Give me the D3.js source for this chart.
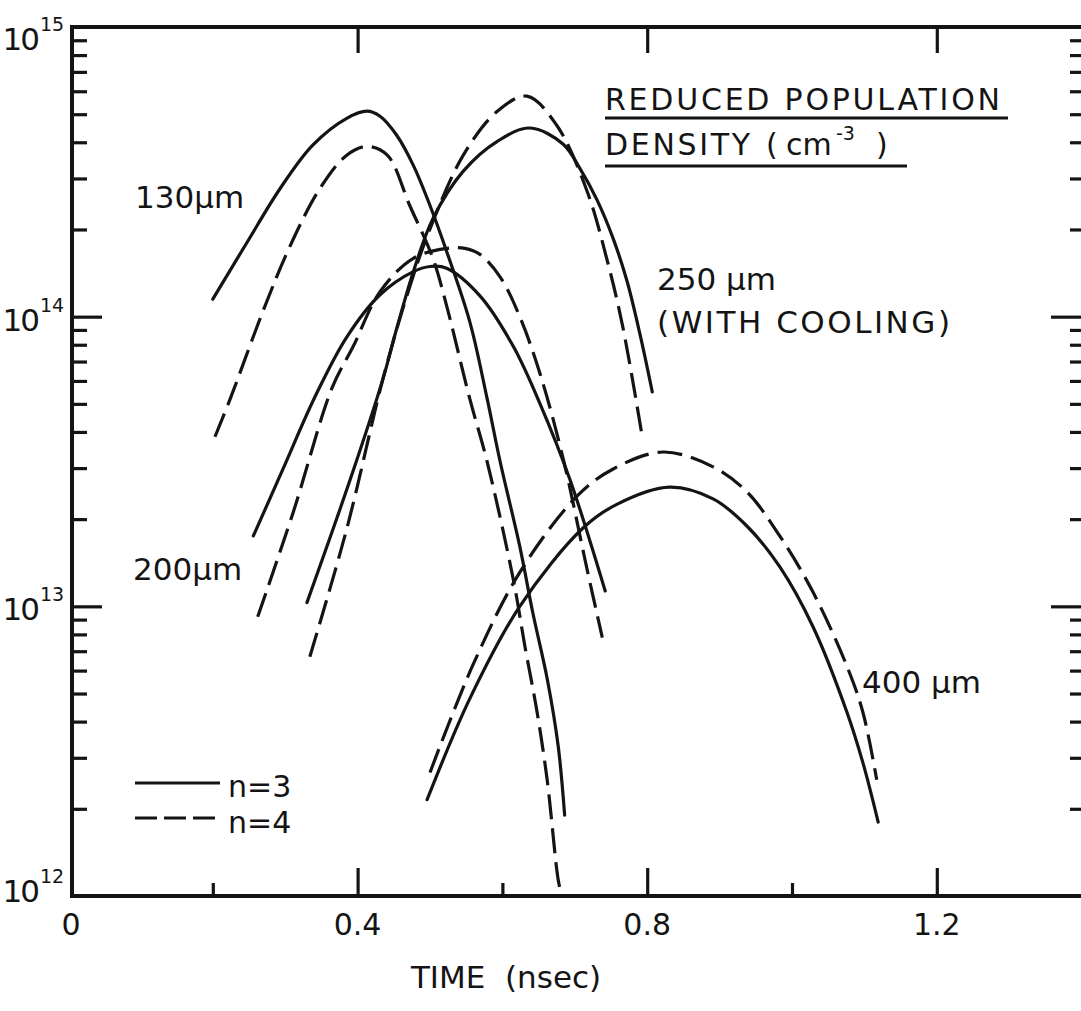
<!DOCTYPE html>
<html><head><meta charset="utf-8">
<script src="https://cdn.jsdelivr.net/npm/d3@7"></script>
<style>
body{margin:0;background:#fff}
svg{display:block}
text{font-family:'DejaVu Sans',sans-serif;fill:#141414}
</style>
</head><body><svg id="c" width="1081" height="1011"></svg>
<script>
// ---------- data ----------
const xMajorTicks = [0.4, 0.8, 1.2];
const xMinorTicks = [0.2, 0.6, 1.0];
const xTickLabels = [[0, "0"], [0.4, "0.4"], [0.8, "0.8"], [1.2, "1.2"]];
const yDecades = [1e12, 1e13, 1e14, 1e15];
const yDecadeExponents = ["12", "13", "14", "15"];
const xTitle = "TIME  (nsec)";

// [time (nsec), reduced population density (cm^-3)]
const s130n3 = [[0.200,1.15e14],[0.247,1.80e14],[0.293,2.77e14],[0.338,3.91e14],[0.385,4.84e14],[0.413,5.12e14],[0.431,4.92e14],[0.454,4.23e14],[0.477,3.33e14],[0.500,2.42e14],[0.523,1.68e14],[0.555,9.6e13],[0.579,5.2e13],[0.597,3.15e13],[0.624,1.61e13],[0.642,9.5e12],[0.662,5.6e12],[0.677,3.3e12],[0.686,1.9e12]];
const s130n4 = [[0.203,3.85e13],[0.224,5.2e13],[0.269,1.04e14],[0.307,1.76e14],[0.348,2.77e14],[0.385,3.61e14],[0.413,3.87e14],[0.441,3.61e14],[0.472,2.42e14],[0.504,1.59e14],[0.523,1.09e14],[0.555,5.2e13],[0.579,3.15e13],[0.615,1.24e13],[0.631,7.3e12],[0.648,4.3e12],[0.662,2.5e12],[0.677,1.14e12],[0.682,1.0e12]];
const s200n3 = [[0.256,1.75e13],[0.297,2.98e13],[0.341,5.28e13],[0.385,8.5e13],[0.431,1.19e14],[0.477,1.43e14],[0.500,1.49e14],[0.523,1.47e14],[0.569,1.18e14],[0.615,7.9e13],[0.652,5.0e13],[0.693,2.75e13],[0.742,1.13e13]];
const s200n4 = [[0.262,9.2e12],[0.311,2.11e13],[0.365,5.7e13],[0.394,7.9e13],[0.431,1.22e14],[0.477,1.59e14],[0.523,1.72e14],[0.548,1.72e14],[0.569,1.64e14],[0.597,1.37e14],[0.624,1.0e14],[0.652,6.35e13],[0.684,3.23e13],[0.717,1.34e13],[0.738,7.8e12]];
const s250n3 = [[0.330,1.03e13],[0.390,2.75e13],[0.435,6.1e13],[0.454,9.1e13],[0.477,1.43e14],[0.504,2.18e14],[0.546,3.18e14],[0.593,4.03e14],[0.638,4.48e14],[0.684,3.94e14],[0.707,3.25e14],[0.731,2.52e14],[0.753,1.86e14],[0.772,1.33e14],[0.790,8.7e13],[0.807,5.5e13]];
const s250n4 = [[0.334,6.7e12],[0.385,1.85e13],[0.435,6.1e13],[0.468,1.18e14],[0.500,2.01e14],[0.546,3.61e14],[0.593,5.12e14],[0.634,5.77e14],[0.675,4.58e14],[0.717,2.71e14],[0.744,1.59e14],[0.766,9.3e13],[0.793,3.87e13]];
const s400n3 = [[0.496,2.15e12],[0.555,4.8e12],[0.624,1.0e13],[0.711,1.86e13],[0.758,2.25e13],[0.831,2.58e13],[0.891,2.35e13],[0.938,1.89e13],[0.983,1.37e13],[1.029,8.5e12],[1.076,4.3e12],[1.098,2.88e12],[1.119,1.8e12]];
const s400n4 = [[0.500,2.67e12],[0.559,6.25e12],[0.624,1.31e13],[0.703,2.4e13],[0.753,2.98e13],[0.822,3.41e13],[0.891,3.03e13],[0.938,2.48e13],[0.983,1.75e13],[1.029,1.12e13],[1.076,6.2e12],[1.098,4.3e12],[1.117,2.52e12]];

const seriesN3 = [s130n3, s200n3, s250n3, s400n3];
const seriesN4 = [s130n4, s200n4, s250n4, s400n4];
const legendLabels = ["n=3", "n=4"];

// ---------- layout ----------
const svg = d3.select("#c");
const W = 1081, H = 1011;
const plotLeft = 72, plotRight = 1083, plotTop = 27, plotBottom = 896;
const x = d3.scaleLinear().domain([0, 1.4]).range([68, 1081.6]);
const y = d3.scaleLog().domain([1e12, 1e15]).range([plotBottom, plotTop]);
const ink = "#141414";

svg.append("rect").attr("width", W).attr("height", H).attr("fill", "#fff");

// minor log ticks
const minorY = [];
for (let e = 12; e < 15; e++) for (let k = 2; k <= 9; k++) minorY.push(k * Math.pow(10, e));
const majorY = [1e13, 1e14];

function styleAxis(g) {
  g.select(".domain").remove();
  g.selectAll(".tick line").attr("stroke", ink).attr("stroke-width", 3.2);
  g.selectAll(".tick text").remove();
}

svg.append("g").attr("transform", `translate(${plotLeft},0)`)
  .call(d3.axisLeft(y).tickValues(minorY).tickSize(-15).tickFormat("")).call(styleAxis);
svg.append("g").attr("transform", `translate(${plotLeft},0)`)
  .call(d3.axisLeft(y).tickValues(majorY).tickSize(-30).tickFormat("")).call(styleAxis);
svg.append("g").attr("transform", `translate(${plotRight},0)`)
  .call(d3.axisRight(y).tickValues(minorY).tickSize(-13).tickFormat("")).call(styleAxis);
svg.append("g").attr("transform", `translate(${plotRight},0)`)
  .call(d3.axisRight(y).tickValues(majorY).tickSize(-32).tickFormat("")).call(styleAxis);

svg.append("g").attr("transform", `translate(0,${plotBottom})`)
  .call(d3.axisBottom(x).tickValues(xMajorTicks).tickSize(-28).tickFormat("")).call(styleAxis);
svg.append("g").attr("transform", `translate(0,${plotBottom})`)
  .call(d3.axisBottom(x).tickValues(xMinorTicks).tickSize(-13).tickFormat("")).call(styleAxis);
svg.append("g").attr("transform", `translate(0,${plotTop})`)
  .call(d3.axisTop(x).tickValues(xMajorTicks).tickSize(-26).tickFormat("")).call(styleAxis);

// frame
svg.append("path")
  .attr("d", `M${plotRight},${plotTop}H${plotLeft}V${plotBottom}H${plotRight}V${plotTop}`)
  .attr("fill", "none").attr("stroke", ink).attr("stroke-width", 4);

// x tick labels
svg.append("g").selectAll("text").data(xTickLabels).join("text")
  .attr("x", d => x(d[0]) + (d[0] === 0 ? 3 : 0)).attr("y", 935)
  .attr("text-anchor", "middle").attr("font-size", 30).text(d => d[1]);

// y decade labels
const yl = svg.append("g").selectAll("g").data(yDecades).join("g");
yl.append("text")
  .attr("x", 38).attr("y", d => Math.min(902, Math.max(50, y(d) + 14)))
  .attr("text-anchor", "end").attr("font-size", 31).attr("letter-spacing", -2).text("10");
yl.append("text")
  .attr("x", 40).attr("y", d => Math.min(902, Math.max(50, y(d) + 14)) - 19)
  .attr("font-size", 19).text((d, i) => yDecadeExponents[i]);

// x title
svg.append("text").attr("x", 506).attr("y", 988).attr("text-anchor", "middle")
  .attr("font-size", 31).attr("xml:space", "preserve").text(xTitle);

// curves
const line = d3.line().x(d => x(d[0])).y(d => y(d[1])).curve(d3.curveCatmullRom.alpha(0.5));
svg.append("g").selectAll("path").data(seriesN3).join("path")
  .attr("d", line).attr("fill", "none").attr("stroke", ink).attr("stroke-width", 3.2)
  .attr("stroke-linecap", "round");
svg.append("g").selectAll("path").data(seriesN4).join("path")
  .attr("d", line).attr("fill", "none").attr("stroke", ink).attr("stroke-width", 3.2)
  .attr("stroke-dasharray", "25,9");

// curve labels
const lab = svg.append("g").attr("font-size", 31);
lab.append("text").attr("x", 135).attr("y", 208).text("130\u03bcm");
lab.append("text").attr("x", 133).attr("y", 580).text("200\u03bcm");
lab.append("text").attr("x", 657).attr("y", 290).text("250 \u03bcm");
lab.append("text").attr("x", 657).attr("y", 333).attr("textLength", 293).attr("lengthAdjust", "spacing").text("(WITH COOLING)");
lab.append("text").attr("x", 862).attr("y", 693).text("400 \u03bcm");

// title block
const tb = svg.append("g").attr("font-size", 30);
tb.append("text").attr("x", 605).attr("y", 110).attr("textLength", 395).attr("lengthAdjust", "spacing").text("REDUCED POPULATION");
tb.append("text").attr("x", 605).attr("y", 155).attr("textLength", 145).attr("lengthAdjust", "spacing").text("DENSITY");
tb.append("text").attr("x", 766).attr("y", 155).text("(");
tb.append("text").attr("x", 786).attr("y", 155).text("cm");
tb.append("text").attr("x", 836).attr("y", 140).attr("font-size", 19).text("-3");
tb.append("text").attr("x", 876).attr("y", 155).text(")");
tb.append("line").attr("x1", 605).attr("x2", 1008).attr("y1", 118).attr("y2", 118).attr("stroke", ink).attr("stroke-width", 3);
tb.append("line").attr("x1", 605).attr("x2", 907).attr("y1", 166).attr("y2", 166).attr("stroke", ink).attr("stroke-width", 3);

// legend
const lg = svg.append("g");
lg.append("line").attr("x1", 135).attr("x2", 220).attr("y1", 783).attr("y2", 783).attr("stroke", ink).attr("stroke-width", 3.2);
lg.append("line").attr("x1", 135).attr("x2", 220).attr("y1", 818).attr("y2", 818).attr("stroke", ink).attr("stroke-width", 3.2).attr("stroke-dasharray", "22,7");
lg.append("text").attr("x", 228).attr("y", 797).attr("font-size", 30).text(legendLabels[0]);
lg.append("text").attr("x", 228).attr("y", 833).attr("font-size", 30).text(legendLabels[1]);
</script>
</body></html>
